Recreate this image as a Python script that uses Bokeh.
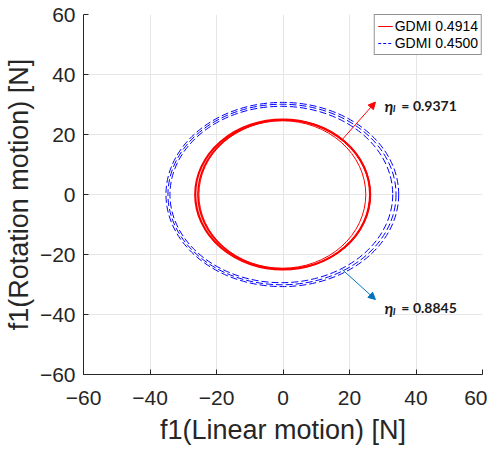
from bokeh.plotting import figure
from bokeh.models import (Range1d, FixedTicker, Arrow, NormalHead, Legend,
                          LegendItem, Label, ColumnDataSource)
from bokeh.embed import file_html
from bokeh.resources import INLINE

# ---- data ----
tick_values = [-60, -40, -20, 0, 20, 40, 60]

# GDMI 0.4914 (red, solid) - orbit loops: centre x, centre y, full width, full height
red_cx = [-0.1, 0.3, -0.2]
red_cy = [0.0, 0.0, 0.0]
red_w = [52.6, 51.8, 50.2]
red_h = [50.0, 49.6, 49.2]
red_lw = [2.2, 1.6, 1.0]

# GDMI 0.4500 (blue, dashed)
blue_cx = [-0.2, -0.3, -0.5]
blue_cy = [0.0, 0.0, 0.0]
blue_w = [70.0, 68.6, 67.0]
blue_h = [61.4, 60.2, 58.8]

legend_labels = ["GDMI 0.4914", "GDMI 0.4500"]
eta_values = ["= 0.9371", "= 0.8845"]

INK = "#262626"
FONT = "Liberation Sans"
NAN = float("nan")

p = figure(frame_width=399, frame_height=360, output_backend="svg",
           toolbar_location=None,
           x_range=Range1d(-60, 60), y_range=Range1d(-60, 60),
           min_border_left=75, min_border_right=5, min_border_top=14,
           min_border_bottom=73)
p.outline_line_color = None
p.background_fill_color = "white"
p.border_fill_color = "white"

for ax in (p.xaxis[0], p.yaxis[0]):
    ax.ticker = FixedTicker(ticks=tick_values)
    ax.minor_tick_line_color = None
    ax.major_tick_in = 5
    ax.major_tick_out = 0
    ax.axis_line_color = INK
    ax.major_tick_line_color = INK
    ax.major_label_text_font = FONT
    ax.major_label_text_font_size = "21px"
    ax.major_label_text_color = INK
    ax.axis_label_text_font = FONT
    ax.axis_label_text_font_size = "27px"
    ax.axis_label_text_font_style = "normal"
    ax.axis_label_text_color = INK

p.xaxis.axis_label = "f1(Linear motion) [N]"
p.yaxis.axis_label = "f1(Rotation motion) [N]"
p.xaxis.major_label_standoff = 16
p.yaxis.major_label_standoff = 8
p.xaxis.axis_label_standoff = 7
p.yaxis.axis_label_standoff = 3

p.grid.grid_line_color = "#e6e6e6"
p.grid.grid_line_width = 1

# blue loops
bsrc = ColumnDataSource(dict(x=blue_cx, y=blue_cy, w=blue_w, h=blue_h))
p.ellipse(x="x", y="y", width="w", height="h", source=bsrc, fill_color=None,
          line_color="#0000ff", line_width=1, line_dash="7 3")
# red loops
rsrc = ColumnDataSource(dict(x=red_cx, y=red_cy, w=red_w, h=red_h, lw=red_lw))
p.ellipse(x="x", y="y", width="w", height="h", source=rsrc, fill_color=None,
          line_color="#ff0000", line_width="lw")

# legend proxies (no visible data)
lr = p.line(x=[NAN], y=[NAN], line_color="#ff0000", line_width=1.2)
lb = p.line(x=[NAN], y=[NAN], line_color="#0000ff", line_width=1, line_dash="3 2")
legend = Legend(items=[LegendItem(label=legend_labels[0], renderers=[lr]),
                       LegendItem(label=legend_labels[1], renderers=[lb])],
                location="top_right", margin=0, padding=3, spacing=1,
                glyph_width=15, glyph_height=16, label_height=16,
                label_standoff=2, label_text_font=FONT,
                label_text_font_size="14px", label_text_color="black",
                border_line_color=INK, border_line_width=1,
                background_fill_color="white", background_fill_alpha=1)
p.add_layout(legend)

# annotations
ann_colors = ["#ff0000", "#0072bd"]
ann_start = [(17.8, 18.3), (17.8, -25.0)]
ann_end = [(27.8, 30.8), (27.8, -35.0)]
ann_base = [29.7, -37.8]
for col, (xs, ys), (xe, ye), yb, txt in zip(ann_colors, ann_start, ann_end,
                                           ann_base, eta_values):
    p.add_layout(Arrow(end=NormalHead(size=7, fill_color=col, line_color=col),
                       x_start=xs, y_start=ys, x_end=xe, y_end=ye,
                       line_color=col, line_width=1))
    p.add_layout(Label(x=30.5, y=yb, text="η", text_font="Lato",
                       text_font_style="bold italic", text_font_size="16px",
                       text_color="#1a1a1a", text_baseline="alphabetic"))
    p.add_layout(Label(x=33.0, y=yb - 0.9, text="I", text_font="Lato",
                       text_font_style="bold italic", text_font_size="10px",
                       text_color="#1a1a1a", text_baseline="alphabetic"))
    p.add_layout(Label(x=35.6, y=yb, text=txt, text_font="Lato",
                       text_font_style="bold", text_font_size="14px",
                       text_color="#1a1a1a", text_baseline="alphabetic"))

open("out.html", "w").write(file_html(p, INLINE))
